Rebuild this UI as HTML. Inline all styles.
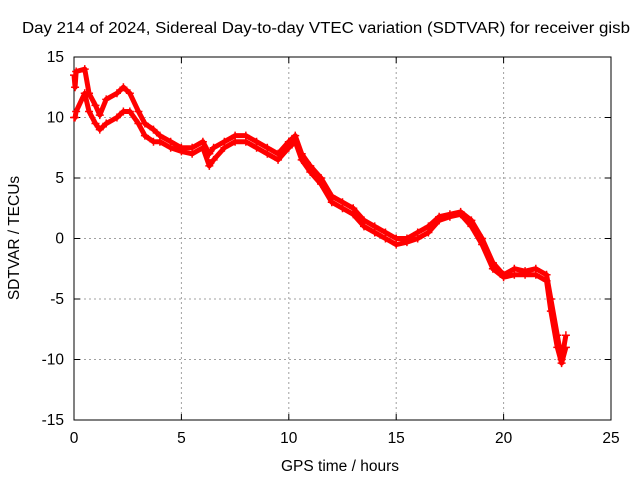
<!DOCTYPE html>
<html><head><meta charset="utf-8"><style>
body{margin:0;background:#fff;}
text{font-family:"Liberation Sans",sans-serif;font-size:15.5px;fill:#000;}
</style></head><body>
<svg width="640" height="480">
<rect width="640" height="480" fill="#fff"/>
<text x="22" y="33" textLength="608" lengthAdjust="spacingAndGlyphs">Day 214 of 2024, Sidereal Day-to-day VTEC variation (SDTVAR) for receiver gisb</text>
<g id="grid"></g>
<g id="axes"></g>
<g id="series"></g>
<text x="340" y="471" text-anchor="middle">GPS time / hours</text>
<text transform="translate(19,238) rotate(-90)" text-anchor="middle">SDTVAR / TECUs</text>
</svg>
<script>
const xTicks=[0,5,10,15,20,25];
const yTicks=[15,10,5,0,-5,-10,-15];
const hours=[0,0.05,0.1,0.5,0.7,1.0,1.2,1.5,2.0,2.3,2.6,3.0,3.3,3.7,4.0,4.5,5.0,5.5,6.0,6.3,6.5,7.0,7.5,8.0,8.5,9.0,9.5,10.0,10.3,10.6,11.0,11.5,12.0,12.5,13.0,13.5,14.0,14.5,15.0,15.5,16.0,16.5,17.0,17.5,18.0,18.5,19.0,19.5,20.0,20.5,21.0,21.5,22.0,22.2,22.5,22.7,22.9];
const sdtvar=[13.5,12.5,13.8,14,12,11,10.2,11.5,12,12.5,12,10.5,9.5,9,8.5,8,7.5,7.5,8,7,7.5,8,8.5,8.5,8,7.5,7,8,8.5,7,6,5,3.5,3,2.5,1.5,1,0.5,0,0,0.5,1,1.8,2,2.2,1.5,0,-2,-3,-2.5,-2.7,-2.5,-3,-5,-8,-10,-8];
const band=[10,10,10.5,12,10.5,9.5,9,9.5,10,10.5,10.5,9.5,8.5,8,8,7.5,7.2,7,7.5,6,6.5,7.5,8,8,7.5,7,6.5,7.5,8,6.5,5.5,4.5,3,2.5,2,1,0.5,0,-0.5,-0.3,0,0.5,1.5,1.8,2,1,-0.5,-2.5,-3.2,-3,-3,-3,-3.5,-6,-9,-10.3,-9];
const L=74,R=611,T=57,B=420;
const xs=v=>L+(v-0)/25*(R-L);
const ys=v=>T+(15-v)/30*(B-T);
const NS='http://www.w3.org/2000/svg';
function mk(t,a,p){const e=document.createElementNS(NS,t);for(const k in a)e.setAttribute(k,a[k]);p.appendChild(e);return e;}
const g=document.getElementById('grid'),ax=document.getElementById('axes'),s=document.getElementById('series');
xTicks.forEach(v=>{
 if(v>0&&v<25){const l=mk('line',{x1:xs(v),x2:xs(v),y1:T,y2:B,stroke:'#a0a0a0','stroke-dasharray':'2,3','stroke-width':1},g);
 
 }
 const t=mk('text',{x:xs(v),y:B+23,'text-anchor':'middle'},ax);t.textContent=v;
 
 
 mk('line',{x1:xs(v),x2:xs(v),y1:B,y2:B-6,stroke:'#000'},ax);
 mk('line',{x1:xs(v),x2:xs(v),y1:T,y2:T+6,stroke:'#000'},ax);
});
yTicks.forEach(v=>{
 if(v>-15&&v<15){const l=mk('line',{x1:L,x2:R,y1:ys(v),y2:ys(v),stroke:'#a0a0a0','stroke-dasharray':'2,3','stroke-width':1},g);
 
 }
 const t=mk('text',{x:L-10,y:ys(v)+5,'text-anchor':'end'},ax);t.textContent=v;
 
 
 mk('line',{x1:L,x2:L+6,y1:ys(v),y2:ys(v),stroke:'#000'},ax);
 mk('line',{x1:R,x2:R-6,y1:ys(v),y2:ys(v),stroke:'#000'},ax);
});
const fr=mk('rect',{x:L,y:T,width:R-L,height:B-T,fill:'none',stroke:'#000'},ax);


[sdtvar,band].forEach(arr=>{
 const pts=hours.map((h,i)=>xs(h)+','+ys(arr[i])).join(' ');
 const pl=mk('polyline',{points:pts,fill:'none',stroke:'#f00','stroke-width':5,'stroke-linejoin':'round'},s);
 
 
 hours.forEach((h,i)=>{
  const x=xs(h),y=ys(arr[i]);
  const p=mk('path',{d:`M${x-4},${y}H${x+4}M${x},${y-4}V${y+4}`,stroke:'#f00','stroke-width':1.5},s);
  
  
 });
});
</script>
</body></html>
